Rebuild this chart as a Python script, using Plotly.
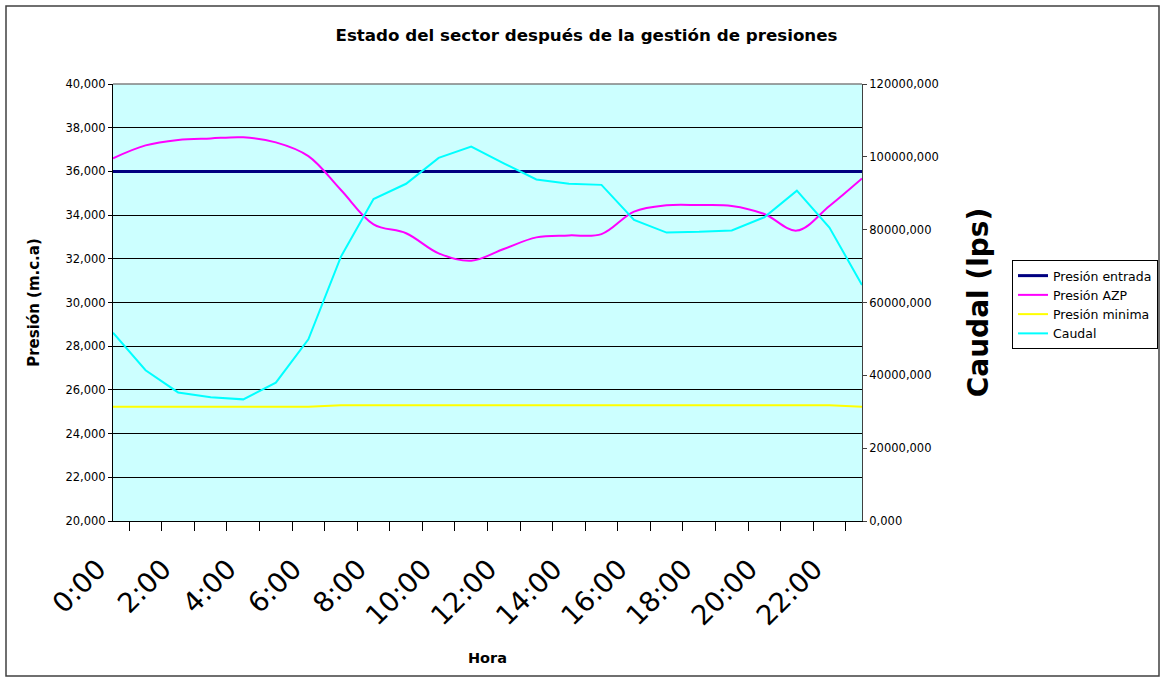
import plotly.graph_objects as go

# ---- data ----
hours = ["0:00", "1:00", "2:00", "3:00", "4:00", "5:00", "6:00", "7:00",
         "8:00", "9:00", "10:00", "11:00", "12:00", "13:00", "14:00", "15:00",
         "16:00", "17:00", "18:00", "19:00", "20:00", "21:00", "22:00", "23:00"]
tick_labels = ["0:00", "", "2:00", "", "4:00", "", "6:00", "", "8:00", "",
               "10:00", "", "12:00", "", "14:00", "", "16:00", "", "18:00", "",
               "20:00", "", "22:00", ""]

presion_entrada = [36.0, 36.0, 36.0, 36.0, 36.0, 36.0, 36.0, 36.0,
                   36.0, 36.0, 36.0, 36.0, 36.0, 36.0, 36.0, 36.0,
                   36.0, 36.0, 36.0, 36.0, 36.0, 36.0, 36.0, 36.0]
presion_azp = [36.60, 37.19, 37.44, 37.51, 37.56, 37.33, 36.70, 35.15,
               33.58, 33.17, 32.25, 31.91, 32.45, 32.98, 33.07, 33.13,
               34.16, 34.45, 34.46, 34.42, 34.05, 33.29, 34.42, 35.68]
presion_minima = [25.23, 25.23, 25.23, 25.23, 25.23, 25.23, 25.23, 25.30,
                  25.30, 25.30, 25.30, 25.30, 25.30, 25.30, 25.30, 25.30,
                  25.30, 25.30, 25.30, 25.30, 25.30, 25.30, 25.30, 25.23]
caudal = [51700, 41400, 35300, 34000, 33400, 38000, 49900, 72600,
          88400, 92600, 99700, 102800, 98200, 93800, 92600, 92300,
          82700, 79200, 79400, 79800, 83400, 90700, 80600, 64800]

left_ticks = [20, 22, 24, 26, 28, 30, 32, 34, 36, 38, 40]
right_ticks = [0, 20000, 40000, 60000, 80000, 100000, 120000]

FONT = "DejaVu Sans"

fig = go.Figure()
fig.add_trace(go.Scatter(x=hours, y=presion_entrada, name="Presión entrada",
                         mode="lines", line=dict(color="#000080", width=3)))
fig.add_trace(go.Scatter(x=hours, y=presion_azp, name="Presión AZP",
                         mode="lines", line=dict(color="#FF00FF", width=2,
                                                 shape="spline", smoothing=1)))
fig.add_trace(go.Scatter(x=hours, y=presion_minima, name="Presión minima",
                         mode="lines", line=dict(color="#FFFF00", width=2)))
fig.add_trace(go.Scatter(x=hours, y=caudal, name="Caudal", yaxis="y2",
                         mode="lines", line=dict(color="#00FFFF", width=2)))

W, H = 1163, 679
# plot area in page pixels
PL, PR, PT, PB = 113, 862, 84, 521
L, T = PL, PT
R, B = W - PR, H - PB
pw, ph = PR - PL, PB - PT


def px_x(p):
    return (p - PL) / pw


def px_y(p):
    return (PB - p) / ph


fig.update_layout(
    width=W, height=H,
    margin=dict(l=L, r=R, t=T, b=B, autoexpand=False),
    paper_bgcolor="white",
    plot_bgcolor="#CCFFFF",
    separators=",.",
    font=dict(family=FONT, color="black", size=12),
    title=dict(text="Estado del sector después de la gestión de presiones",
               font=dict(family=FONT, size=16.7, weight="bold", color="black"),
               x=586.5 / W, xanchor="center",
               y=1 - 35 / H, yanchor="middle"),
    xaxis=dict(type="category", categoryorder="array", categoryarray=hours,
               tickmode="array", tickvals=hours, ticktext=tick_labels,
               tickson="boundaries", ticks="outside", ticklen=9,
               tickcolor="black", tickwidth=1,
               tickangle=-45, tickfont=dict(family=FONT, size=27.5, color="black"),
               ticklabelshift=-15, ticklabelstandoff=20,
               showline=True, linecolor="black", linewidth=1,
               showgrid=False, zeroline=False,
               title=dict(text="Hora", font=dict(family=FONT, size=14.5,
                                                  weight="bold", color="black"),
                          standoff=22)),
    yaxis=dict(range=[20, 40], tickmode="array", tickvals=left_ticks,
               tickformat=".3f", ticks="outside", ticklen=4, tickcolor="black",
               tickfont=dict(family=FONT, size=11.5, color="black"),
               showline=True, linecolor="black", linewidth=1,
               showgrid=True, gridcolor="black", gridwidth=1, zeroline=False,
               title=dict(text="Presión (m.c.a)",
                          font=dict(family=FONT, size=15, weight="bold",
                                    color="black"), standoff=22)),
    yaxis2=dict(range=[0, 120000], overlaying="y", side="right",
                tickmode="array", tickvals=right_ticks, tickformat=".3f",
                ticks="outside", ticklen=4, tickcolor="#404040",
                tickfont=dict(family=FONT, size=11.5, color="black"),
                showline=True, linecolor="#404040", linewidth=1,
                showgrid=False, zeroline=False,
                title=dict(text="Caudal (lps)",
                           font=dict(family=FONT, size=28, weight="bold",
                                     color="black"), standoff=30)),
    legend=dict(x=px_x(1012), y=px_y(260), xanchor="left", yanchor="top",
                bgcolor="white", bordercolor="black", borderwidth=1,
                font=dict(family=FONT, size=12.5, color="black"),
                traceorder="normal"),
    showlegend=True,
    shapes=[
        dict(type="rect", xref="paper", yref="paper",
             x0=px_x(6), x1=px_x(1159), y0=px_y(676), y1=px_y(6),
             line=dict(color="#404040", width=1.5), layer="below"),
        dict(type="line", xref="paper", yref="paper", x0=0, x1=1, y0=1, y1=1,
             line=dict(color="#808080", width=1.5), layer="above"),
    ],
)

fig.write_html(
    "out.html",
    config={"displayModeBar": False},
    post_script="document.body.style.margin='0';"
                "document.body.style.overflow='hidden';",
)
